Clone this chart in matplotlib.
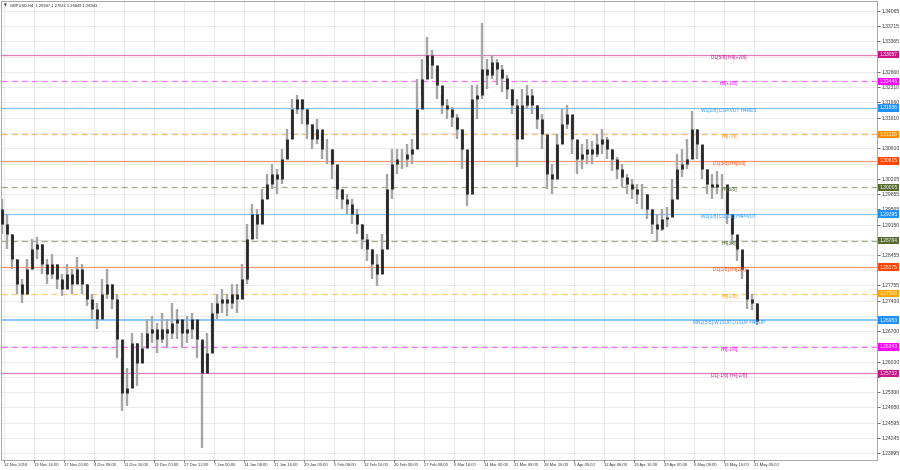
import matplotlib.pyplot as plt
import matplotlib.transforms as mtransforms

# GBPUSD, one bar per ~6 H4 candles
closes = [1.2917, 1.2894, 1.2837, 1.2779, 1.2756, 1.2814, 1.2859, 1.2871, 1.2825, 1.2802,
          1.2825, 1.2791, 1.2768, 1.2802, 1.2779, 1.2814, 1.2779, 1.2745, 1.2722, 1.2699,
          1.2756, 1.2779, 1.2745, 1.2653, 1.2528, 1.2539, 1.2642, 1.2596, 1.2631, 1.2665,
          1.2676, 1.2653, 1.2676, 1.2665, 1.2688, 1.2699, 1.2665, 1.2676, 1.2699, 1.2653,
          1.2573, 1.2619, 1.2711, 1.2734, 1.2745, 1.2734, 1.2756, 1.2745, 1.2791, 1.2882,
          1.2940, 1.2917, 1.2974, 1.3008, 1.3031, 1.3020, 1.3066, 1.3111, 1.3180, 1.3203,
          1.3180, 1.3146, 1.3111, 1.3134, 1.3088, 1.3088, 1.3054, 1.2997, 1.2974, 1.2963,
          1.2940, 1.2917, 1.2882, 1.2859, 1.2825, 1.2802, 1.2859, 1.2997, 1.3054, 1.3066,
          1.3066, 1.3077, 1.3088, 1.3180, 1.3249, 1.3306, 1.3283, 1.3237, 1.3191, 1.3180,
          1.3162, 1.3134, 1.3088, 1.2985, 1.3203, 1.3214, 1.3272, 1.3260, 1.3290, 1.3272,
          1.3253, 1.3226, 1.3191, 1.3111, 1.3191, 1.3214, 1.3191, 1.3157, 1.3123, 1.3031,
          1.3020, 1.3100, 1.3146, 1.3169, 1.3111, 1.3066, 1.3077, 1.3088, 1.3077, 1.3100,
          1.3111, 1.3088, 1.3066, 1.3043, 1.3024, 1.3008, 1.2997, 1.2985, 1.2985, 1.2951,
          1.2917, 1.2905, 1.2928, 1.2933, 1.2974, 1.3043, 1.3054, 1.3066, 1.3134, 1.3100,
          1.3043, 1.3008, 1.3001, 1.3008, 1.3008, 1.2940, 1.2894, 1.2859, 1.2814, 1.2745,
          1.2734, 1.2694]
highs = [1.2974, 1.2940, 1.2894, 1.2837, 1.2791, 1.2837, 1.2882, 1.2887, 1.2871, 1.2837,
         1.2848, 1.2825, 1.2802, 1.2825, 1.2814, 1.2841, 1.2825, 1.2779, 1.2756, 1.2734,
         1.2791, 1.2814, 1.2779, 1.2756, 1.2608, 1.2585, 1.2665, 1.2642, 1.2665, 1.2699,
         1.2704, 1.2688, 1.2711, 1.2699, 1.2734, 1.2722, 1.2699, 1.2704, 1.2711, 1.2688,
         1.2642, 1.2665, 1.2734, 1.2756, 1.2768, 1.2756, 1.2779, 1.2779, 1.2825, 1.2917,
         1.2963, 1.2951, 1.2997, 1.3031, 1.3054, 1.3043, 1.3088, 1.3134, 1.3203, 1.3214,
         1.3203, 1.3180, 1.3146, 1.3157, 1.3123, 1.3111, 1.3088, 1.3043, 1.2997, 1.2985,
         1.2974, 1.2951, 1.2917, 1.2894, 1.2859, 1.2848, 1.2894, 1.3031, 1.3088, 1.3088,
         1.3088, 1.3100, 1.3111, 1.3249, 1.3295, 1.3347, 1.3317, 1.3272, 1.3214, 1.3203,
         1.3185, 1.3169, 1.3134, 1.3066, 1.3237, 1.3237, 1.3379, 1.3295, 1.3306, 1.3295,
         1.3283, 1.3260, 1.3226, 1.3203, 1.3226, 1.3237, 1.3226, 1.3191, 1.3169, 1.3111,
         1.3054, 1.3123, 1.3180, 1.3191, 1.3157, 1.3100, 1.3100, 1.3111, 1.3107, 1.3123,
         1.3134, 1.3116, 1.3088, 1.3070, 1.3054, 1.3031, 1.3020, 1.3008, 1.3008, 1.2985,
         1.2951, 1.2940, 1.2951, 1.2956, 1.3020, 1.3077, 1.3088, 1.3111, 1.3176, 1.3134,
         1.3088, 1.3043, 1.3031, 1.3038, 1.3031, 1.2985, 1.2928, 1.2882, 1.2841, 1.2779,
         1.2756, 1.2734]
lows = [1.2894, 1.2859, 1.2814, 1.2756, 1.2734, 1.2768, 1.2825, 1.2837, 1.2802, 1.2779,
        1.2791, 1.2768, 1.2750, 1.2768, 1.2756, 1.2779, 1.2756, 1.2727, 1.2699, 1.2676,
        1.2722, 1.2745, 1.2722, 1.2608, 1.2486, 1.2498, 1.2573, 1.2543, 1.2596, 1.2631,
        1.2642, 1.2619, 1.2642, 1.2631, 1.2653, 1.2653, 1.2631, 1.2642, 1.2653, 1.2608,
        1.2402, 1.2573, 1.2642, 1.2699, 1.2711, 1.2704, 1.2722, 1.2711, 1.2745, 1.2779,
        1.2894, 1.2882, 1.2917, 1.2974, 1.2997, 1.2985, 1.3008, 1.3066, 1.3111, 1.3169,
        1.3146, 1.3111, 1.3088, 1.3100, 1.3066, 1.3054, 1.3020, 1.2974, 1.2951, 1.2940,
        1.2917, 1.2894, 1.2859, 1.2832, 1.2791, 1.2775, 1.2814, 1.2894, 1.2974, 1.3031,
        1.3043, 1.3047, 1.3054, 1.3123, 1.3214, 1.3283, 1.3249, 1.3203, 1.3169, 1.3157,
        1.3139, 1.3111, 1.3043, 1.2958, 1.3020, 1.3157, 1.3203, 1.3226, 1.3249, 1.3237,
        1.3221, 1.3203, 1.3169, 1.3047, 1.3111, 1.3180, 1.3169, 1.3134, 1.3088, 1.2997,
        1.2985, 1.3043, 1.3111, 1.3134, 1.3077, 1.3031, 1.3043, 1.3054, 1.3054, 1.3070,
        1.3077, 1.3066, 1.3038, 1.3020, 1.3001, 1.2985, 1.2974, 1.2963, 1.2951, 1.2928,
        1.2894, 1.2876, 1.2901, 1.2910, 1.2940, 1.3008, 1.3024, 1.3043, 1.3088, 1.3066,
        1.3020, 1.2985, 1.2974, 1.2985, 1.2974, 1.2917, 1.2871, 1.2832, 1.2791, 1.2722,
        1.2718, 1.2685]
first_open = 1.2950

level_prices = [1.33057, 1.32446, 1.31836, 1.31226, 1.30615, 1.30005, 1.29395,
                1.28784, 1.28175, 1.27563, 1.26953, 1.26343, 1.25732]
level_names = ["D1[5/8] H4[+2/8]", "H4[+1/8]", "W1[2/8] D1PIVOT H4RES", "H4[7/8]",
               "D1[3/8] H4[6/8]", "H4[5/8]", "W1[1/8] D1[2/8] H4PIVOT", "H4[3/8]",
               "D1[1/8] H4[2/8]", "H4[1/8]", "MN1[5/8] W1SUP D1SUP H4SUP", "H4[-1/8]",
               "D1[-1/8] H4[-2/8]"]
level_colors = ["#C71585", "#FF00FF", "#1E90FF", "#FF8C00", "#FF4500", "#556B2F", "#1E90FF",
                "#556B2F", "#FF4500", "#FFA500", "#1E90FF", "#FF00FF", "#C71585"]
level_dashed = [False, True, False, True, False, True, False,
                True, False, True, False, True, False]
level_widths = [0.9, 0.9, 0.9, 0.9, 0.9, 0.9, 0.9, 0.9, 0.9, 0.9, 1.3, 0.9, 0.9]

price_ticks = [1.34065, 1.33715, 1.33365, 1.33015, 1.32660, 1.32310, 1.31960, 1.31610,
               1.31255, 1.30910, 1.30555, 1.30205, 1.29855, 1.29505, 1.29150, 1.28800,
               1.28455, 1.28100, 1.27755, 1.27400, 1.27050, 1.26700, 1.26350, 1.26000,
               1.25650, 1.25300, 1.24950, 1.24595, 1.24245, 1.23895]

date_labels = ["12 Nov 2018", "19 Nov 16:00", "27 Nov 00:00", "4 Dec 08:00", "11 Dec 16:00",
               "19 Dec 00:00", "27 Dec 12:00", "7 Jan 00:00", "14 Jan 08:00", "21 Jan 16:00",
               "29 Jan 00:00", "5 Feb 08:00", "12 Feb 16:00", "20 Feb 00:00", "27 Feb 08:00",
               "6 Mar 16:00", "14 Mar 00:00", "21 Mar 08:00", "28 Mar 16:00", "5 Apr 00:00",
               "12 Apr 08:00", "19 Apr 16:00", "29 Apr 00:00", "6 May 08:00", "13 May 16:00",
               "21 May 00:00"]
steps_per_label = 6

plt.rcParams['font.family'] = ['Liberation Sans', 'DejaVu Sans']

fig = plt.figure(figsize=(9, 4.7), dpi=100)
ax = fig.add_axes([0.001, 0.021, 0.9735, 0.977])

x = list(range(len(closes)))
opens = [first_open] + closes[:-1]
body_lo = [min(o, c) for o, c in zip(opens, closes)]
body_hi = [max(o, c) for o, c in zip(opens, closes)]
ax.vlines(x, lows, highs, color='#a6a6a6', lw=1.7, zorder=3)
ax.vlines(x, body_lo, body_hi, color='#262626', lw=2.0, zorder=3.1)

# level lines with their labels and price tags
trans = mtransforms.blended_transform_factory(ax.transAxes, ax.transData)
for p, name, c, d, w in zip(level_prices, level_names, level_colors, level_dashed, level_widths):
    ax.axhline(p, color=c, lw=w, ls=(0, (5, 3)) if d else '-', alpha=0.55, zorder=2)
    ax.text(0.831, p, name, transform=trans, color=c, fontsize=3.4,
            ha='center', va='top', zorder=4)
    ax.text(1.003, p, f"{p:.5f}", transform=trans, color='white', fontsize=3.6,
            ha='left', va='center', zorder=10, clip_on=False,
            bbox=dict(boxstyle='square,pad=0.25', fc=c, ec='none'))

ax.set_ylim(1.23737, 1.34294)
ax.set_xlim(-0.3, 175.1)

ax.yaxis.tick_right()
ax.set_yticks(price_ticks)
tick_text = []
for t in price_ticks:
    near = min(abs(t - p) for p in level_prices)
    tick_text.append('' if near < 0.0011 else f"{t:.5f}")
ax.set_yticklabels(tick_text, fontsize=3.6)
xt = [0.4 + steps_per_label * i for i in range(len(date_labels))]
ax.set_xticks(xt)
ax.set_xticklabels(date_labels, fontsize=3.0, ha='left')
ax.tick_params(axis='y', length=2, width=0.5, pad=1.5, colors='#333333')
ax.tick_params(axis='x', length=1.5, width=0.5, pad=0.8, colors='#333333')

ax.grid(True, color='#e8e8e8', lw=0.6)
ax.set_axisbelow(True)
for s in ax.spines.values():
    s.set_color('#999999')
    s.set_linewidth(0.6)

ax.text(0.004, 0.995, "\u25bc", transform=ax.transAxes, fontsize=2.6, va='top', ha='left',
        color='#333333', family=['DejaVu Sans'])
ax.text(0.010, 0.995, "GBPUSD,H4  1.26947 1.27032 1.26849 1.26943", transform=ax.transAxes,
        fontsize=2.9, va='top', ha='left', color='#222222')

fig.savefig('out.png', dpi=100)
